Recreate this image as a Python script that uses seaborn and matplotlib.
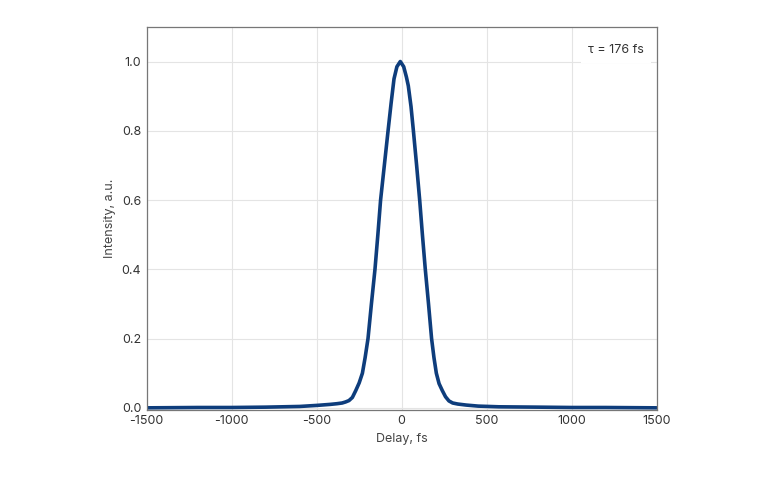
import numpy as np
import matplotlib
matplotlib.use("Agg")
import matplotlib.pyplot as plt
import seaborn as sns
import pandas as pd

delay = [-1500, -1200, -1000, -800, -600, -500, -420, -380, -350, -330, -310, -290, -270, -250,
         -231, -215, -198, -178, -157, -140, -124, -102, -80, -62, -45, -28, -8, 12, 28, 39, 55, 69,
         88, 106, 122, 139, 158, 176, 190, 204, 220, 239, 258, 278, 300, 330, 380, 450, 572, 800,
         1000, 1200, 1500]
intensity = [0.0, 0.001, 0.001, 0.002, 0.004, 0.007, 0.010, 0.012, 0.014, 0.017, 0.021, 0.030, 0.050, 0.072,
             0.10, 0.145, 0.20, 0.30, 0.40, 0.50, 0.60, 0.70, 0.80, 0.88, 0.95, 0.985, 1.0, 0.985, 0.955, 0.93, 0.87, 0.80,
             0.70, 0.60, 0.50, 0.40, 0.30, 0.20, 0.145, 0.10, 0.07, 0.05, 0.032, 0.02, 0.014, 0.011, 0.008, 0.005, 0.003, 0.002,
             0.001, 0.001, 0.0]

sns.set_theme(style="whitegrid")
plt.rcParams['font.family'] = ['Inter', 'DejaVu Sans']
plt.rcParams['axes.unicode_minus'] = False
fig = plt.figure(figsize=(7.68, 4.8), dpi=100)
ax = fig.add_axes([0.191, 0.146, 0.664, 0.798])
df = pd.DataFrame({"delay": delay, "intensity": intensity})
sns.lineplot(data=df, x="delay", y="intensity", ax=ax, color="#0e3d7c", linewidth=2.6)
ax.set_xlim(-1500, 1500)
ax.set_ylim(-0.006, 1.1)
ax.set_xticks([-1500, -1000, -500, 0, 500, 1000, 1500])
ax.set_yticks([0.0, 0.2, 0.4, 0.6, 0.8, 1.0])
ax.set_yticklabels(["0.0", "0.2", "0.4", "0.6", "0.8", "1.0"])
ax.set_xlabel("Delay, fs", fontsize=9, color="#444444")
ax.set_ylabel("Intensity, a.u.", fontsize=9, color="#444444")
ax.tick_params(labelsize=9, colors="#333333", length=0, pad=4)
ax.grid(True, color="#e4e4e4", linewidth=0.8)
for s in ax.spines.values():
    s.set_color("#777777"); s.set_linewidth(0.9)
ax.text(0.975, 0.955, "τ = 176 fs", transform=ax.transAxes, ha="right", va="top", fontsize=9,
        color="#333333", bbox=dict(facecolor="white", edgecolor="none", pad=5))
fig.savefig("out.png", dpi=100)
